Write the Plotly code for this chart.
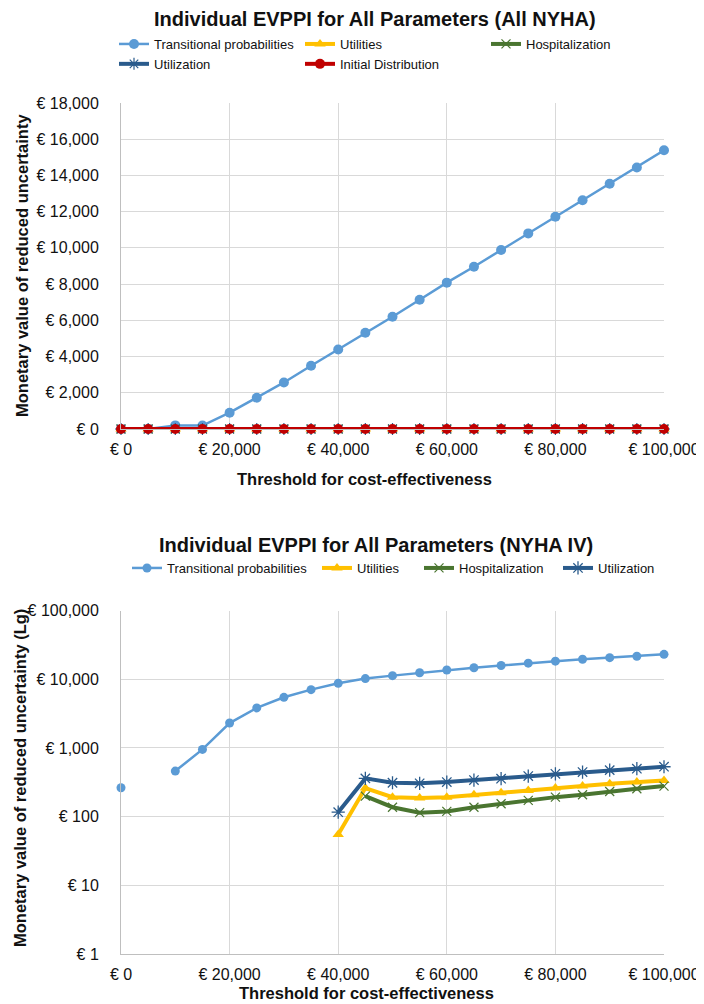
import plotly.graph_objects as go

# ---------------- data ----------------
thresholds = [0, 5000, 10000, 15000, 20000, 25000, 30000, 35000, 40000, 45000, 50000,
              55000, 60000, 65000, 70000, 75000, 80000, 85000, 90000, 95000, 100000]

# Chart 1: All NYHA
all_trans = [0, 0, 200, 190, 900, 1730, 2570, 3490, 4390, 5310, 6200,
             7140, 8080, 8960, 9880, 10800, 11720, 12630, 13540, 14440, 15390]
all_util = [0] * 21
all_hosp = [0] * 21
all_utiliz = [0] * 21
all_init = [0] * 21

# Chart 2: NYHA IV (log scale)
iv_trans = [263, None, 460, 950, 2300, 3820, 5450, 7050, 8710, 10200, 11270,
            12400, 13600, 14700, 15800, 17100, 18300, 19500, 20600, 21600, 23000]
iv_util = [None] * 8 + [55, 260, 192, 186, 192, 208, 222, 240, 260, 278, 300, 318, 335]
iv_hosp = [None] * 9 + [199, 137, 114, 119, 137, 154, 172, 192, 208, 232, 254, 278]
iv_utiliz = [None] * 8 + [116, 360, 311, 305, 318, 340, 356, 389, 420, 445, 475, 498, 532]

x_tickvals = [0, 20000, 40000, 60000, 80000, 100000]
x_ticktext = ["€ 0", "€ 20,000", "€ 40,000", "€ 60,000", "€ 80,000", "€ 100,000"]
y1_tickvals = [0, 2000, 4000, 6000, 8000, 10000, 12000, 14000, 16000, 18000]
y1_ticktext = ["€ 0", "€ 2,000", "€ 4,000", "€ 6,000", "€ 8,000", "€ 10,000",
               "€ 12,000", "€ 14,000", "€ 16,000", "€ 18,000"]
y2_tickvals = [1, 10, 100, 1000, 10000, 100000]
y2_ticktext = ["€ 1", "€ 10", "€ 100", "€ 1,000", "€ 10,000", "€ 100,000"]

# ---------------- style ----------------
FONT = "Liberation Sans, Arial, sans-serif"
C_TRANS = "#5B9BD5"
C_UTIL = "#FFC000"
C_HOSP = "#4A7530"
C_UTILIZ = "#2A5B8C"
C_INIT = "#C00000"
GRID = "#D9D9D9"
AXLINE = "#BFBFBF"

W, H = 704, 1004
def px_x(p):
    return p / W
def px_y(p):
    return 1 - p / H

fig = go.Figure()

def add(x, y, name, color, lw, symbol, msize, xa, ya, legend, mline=None, lwidth=None):
    marker = dict(symbol=symbol, size=msize, color=color)
    if mline:
        marker["line"] = dict(color=color, width=mline)
    kw = {}
    if lwidth:
        kw["legendwidth"] = lwidth
    fig.add_trace(go.Scatter(
        x=x, y=y, name=name, mode="lines+markers",
        line=dict(color=color, width=lw), marker=marker,
        xaxis=xa, yaxis=ya, legend=legend, cliponaxis=False,
        connectgaps=False, **kw))

# top chart
add(thresholds, all_trans, "Transitional probabilities", C_TRANS, 2.5, "circle", 10, "x", "y", "legend")
add(thresholds, all_util, "Utilities", C_UTIL, 4, "triangle-up", 10, "x", "y", "legend")
add(thresholds, all_hosp, "Hospitalization", C_HOSP, 4, "x-thin-open", 9, "x", "y", "legend", 1.2)
add(thresholds, all_utiliz, "Utilization", C_UTILIZ, 4, "asterisk-open", 10, "x", "y", "legend", 1.2)
add(thresholds, all_init, "Initial Distribution", C_INIT, 4, "circle", 10, "x", "y", "legend")

# bottom chart
add(thresholds, iv_trans, "Transitional probabilities", C_TRANS, 2.5, "circle", 9, "x2", "y2", "legend2", lwidth=145)
add(thresholds, iv_util, "Utilities", C_UTIL, 4, "triangle-up", 10, "x2", "y2", "legend2", lwidth=57)
add(thresholds, iv_hosp, "Hospitalization", C_HOSP, 4, "x-thin-open", 9, "x2", "y2", "legend2", 1.2, lwidth=94)
add(thresholds, iv_utiliz, "Utilization", C_UTILIZ, 4, "asterisk-open", 11, "x2", "y2", "legend2", 1.3, lwidth=60)

xdom = [px_x(113), px_x(656)]
common_x = dict(range=[0, 100000], tickvals=x_tickvals, ticktext=x_ticktext,
                showgrid=True, gridcolor=GRID, gridwidth=1, showline=True,
                linecolor=AXLINE, linewidth=1, zeroline=False, ticks="",
                tickfont=dict(family=FONT, size=16, color="#111"),
                ticklabelstandoff=6, ticklabeloverflow="allow",
                automargin=False, fixedrange=True)
common_y = dict(showgrid=True, gridcolor=GRID, gridwidth=1, showline=True,
                linecolor=AXLINE, linewidth=1, zeroline=False, ticks="",
                tickfont=dict(family=FONT, size=16, color="#111"),
                ticklabelstandoff=18, ticklabeloverflow="allow",
                automargin=False, fixedrange=True)

fig.update_layout(
    width=W, height=H, template="none",
    margin=dict(l=0, r=0, t=0, b=0),
    paper_bgcolor="white", plot_bgcolor="white",
    font=dict(family=FONT, color="#111"),
    xaxis=dict(domain=xdom, anchor="y", **common_x),
    yaxis=dict(domain=[px_y(421), px_y(95)], anchor="x", range=[0, 18000],
               tickvals=y1_tickvals, ticktext=y1_ticktext, **common_y),
    xaxis2=dict(domain=xdom, anchor="y2", **common_x),
    yaxis2=dict(domain=[px_y(946), px_y(602.5)], anchor="x2", type="log", range=[0, 5],
                tickvals=y2_tickvals, ticktext=y2_ticktext, **common_y),
    legend=dict(orientation="h", x=px_x(106), y=px_y(21), xanchor="left", yanchor="top",
                font=dict(family=FONT, size=13, color="#111"),
                entrywidth=141, entrywidthmode="pixels",
                bgcolor="rgba(0,0,0,0)", borderwidth=0, traceorder="normal"),
    legend2=dict(orientation="h", x=px_x(119), y=px_y(545), xanchor="left", yanchor="top",
                 font=dict(family=FONT, size=13, color="#111"),
                 bgcolor="rgba(0,0,0,0)", borderwidth=0, traceorder="normal"),
    showlegend=True,
)

def ann(text, x, y, size, angle=0):
    fig.add_annotation(text=text, x=x, y=y, xref="paper", yref="paper",
                       xanchor="center", yanchor="middle", showarrow=False,
                       textangle=angle, font=dict(family=FONT, size=size, color="#111"))

ann("<b>Individual EVPPI for All Parameters (All NYHA)</b>", px_x(367), px_y(11), 20)
ann("<b>Individual EVPPI for All Parameters (NYHA IV)</b>", px_x(368), px_y(537), 20)
ann("<b>Threshold for cost-effectiveness</b>", px_x(356), px_y(471), 16.5)
ann("<b>Threshold for cost-effectiveness</b>", px_x(358), px_y(985), 16.5)
ann("<b>Monetary value of reduced uncertainty</b>", px_x(14), px_y(258), 16.5, -90)
ann("<b>Monetary value of reduced uncertainty (Lg)</b>", px_x(12), px_y(770), 16.5, -90)

fig.write_html("out.html")
